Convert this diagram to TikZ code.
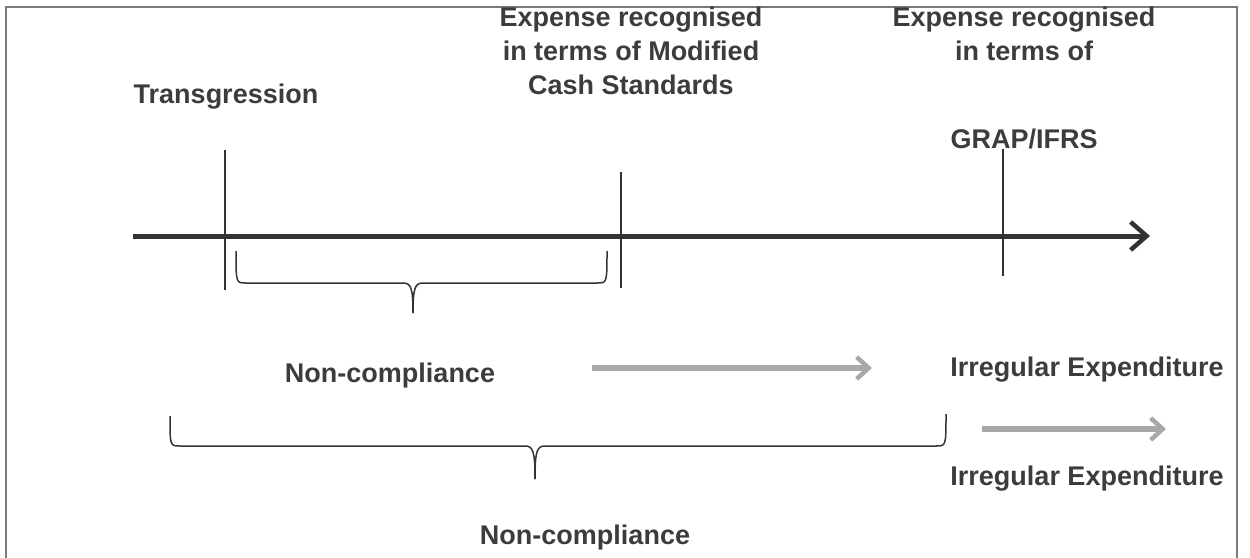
\documentclass[tikz,border=0pt]{standalone}
\usepackage{fontspec}
\setmainfont{Liberation Sans}
\usetikzlibrary{arrows.meta}
\definecolor{txt}{HTML}{3C3C3C}
\definecolor{ln}{HTML}{333333}
\definecolor{gr}{HTML}{A8A8A8}
\definecolor{frm}{HTML}{7A7A7A}
\tikzset{
  lbl/.style={inner sep=0pt, align=center, text=txt, font=\bfseries\fontsize{27}{34}\selectfont},
  tick/.style={draw=ln, line width=1.5pt},
  brace/.style={draw=ln, line width=1.5pt, line join=round},
  timeline/.style={draw=ln, line width=5pt, -{Straight Barb[length=16pt,width=28pt,line width=4.5pt]}},
  greyarrow/.style={draw=gr, line width=6pt, -{Straight Barb[length=12pt,width=22pt,line width=4.5pt]}},
}
\begin{document}
\begin{tikzpicture}[x=1pt,y=-1pt]
\useasboundingbox (0,0) rectangle (1250,557);
\draw[frm, line width=2pt] (6,7) rectangle (1237,565);

% labels
\node[lbl] (trans) at (226,97) {Transgression};
\node[lbl] (mcs) at (631,51) {Expense recognised\\in terms of Modified\\Cash Standards};
\node[lbl] (grap1) at (1024,34) {Expense recognised\\in terms of};
\node[lbl] (grap2) at (1024,139) {GRAP/IFRS};
\node[lbl] (nc1) at (390,376) {Non-compliance};
\node[lbl] (ie1) at (1087,370) {Irregular Expenditure};
\node[lbl] (ie2) at (1087,479) {Irregular Expenditure};
\node[lbl] (nc2) at (585,538) {Non-compliance};

% timeline
\coordinate (tl0) at (133,236);
\coordinate (tl1) at (1150,236);
\draw[timeline] (tl0) -- (tl1);

% ticks
\coordinate (t1a) at (225,150); \coordinate (t1b) at (225,290);
\coordinate (t2a) at (621,172); \coordinate (t2b) at (621,288);
\coordinate (t3a) at (1003,149); \coordinate (t3b) at (1003,276);
\draw[tick] (t1a) -- (t1b);
\draw[tick] (t2a) -- (t2b);
\draw[tick] (t3a) -- (t3b);

% brace 1
\coordinate (b1l) at (236,251);
\coordinate (b1r) at (607,251);
\coordinate (b1m) at (413,313);
\draw[brace] (b1l) .. controls (236,283) and (236,283) .. (246,283) -- (403,283)
  .. controls (411,283) and (413,288) .. (b1m);
\draw[brace] (b1r) .. controls (607,283) and (607,283) .. (597,283) -- (423,283)
  .. controls (415,283) and (413,288) .. (b1m);

% brace 2
\coordinate (b2l) at (170,416);
\coordinate (b2r) at (946,414);
\coordinate (b2m) at (535,479);
\draw[brace] (b2l) .. controls (170,446) and (170,446) .. (180,446) -- (525,446)
  .. controls (533,446) and (535,451) .. (b2m);
\draw[brace] (b2r) .. controls (946,446) and (946,446) .. (936,446) -- (545,446)
  .. controls (537,446) and (535,451) .. (b2m);

% grey arrows
\coordinate (g1a) at (592,368); \coordinate (g1b) at (872,368);
\coordinate (g2a) at (982,429); \coordinate (g2b) at (1166,429);
\draw[greyarrow] (g1a) -- (g1b);
\draw[greyarrow] (g2a) -- (g2b);
\end{tikzpicture}
\end{document}
